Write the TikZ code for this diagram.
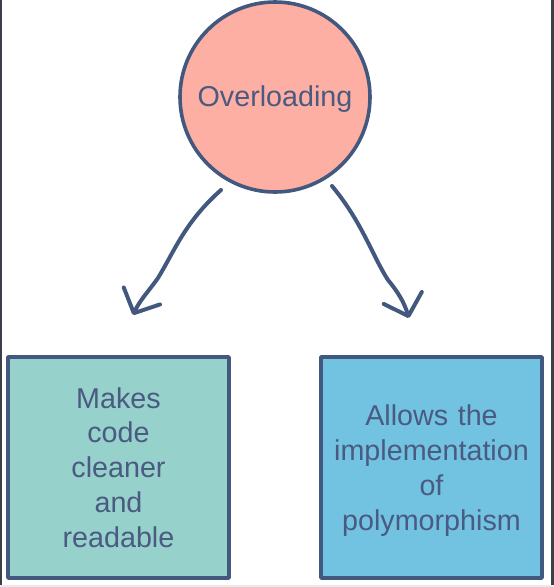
\documentclass[tikz,border=0pt]{standalone}
\usepackage{fontspec}
\setmainfont{Liberation Sans}
\usetikzlibrary{arrows.meta}
\definecolor{ink}{HTML}{43587E}
\definecolor{txt}{HTML}{4A5A80}
\definecolor{salmon}{HTML}{FEAFA3}
\definecolor{teal}{HTML}{97D1CC}
\definecolor{skyb}{HTML}{72C2E1}
\definecolor{edge}{HTML}{3C3F48}
\tikzset{
  outl/.style={draw=ink, line width=3.6pt},
  lbl/.style={text=txt, font=\fontsize{28.7}{34.8}\selectfont, align=center},
  boxnode/.style={outl, rectangle, minimum width=221pt, minimum height=221pt, inner sep=0pt, line join=round},
  conn/.style={draw=ink, line width=4pt, line cap=round, line join=round,
    -{Straight Barb[length=19pt,width=40pt,line width=4pt,round]}},
}
\begin{document}
\begin{tikzpicture}[x=1pt,y=-1pt]
\useasboundingbox (0,0) rectangle (554,587);
\fill[white] (0,0) rectangle (554,587);
\fill[edge] (0,0) rectangle (1.6,587);
\fill[edge] (550.5,0) rectangle (554,587);
\fill[black!8] (0,584.5) rectangle (554,587);
\node[outl, circle, fill=salmon, minimum size=190pt, inner sep=0pt] (over) at (275,97) {};
\node[lbl] (overt) at (275,99) {Overloading};
\node[boxnode, fill=teal] (left) at (118.5,467.5) {};
\node[lbl, text width=200pt] (leftt) at (118.5,467.5) {Makes\\code\\cleaner\\and\\readable};
\node[boxnode, fill=skyb] (right) at (431.5,467.5) {};
\node[lbl, text width=215pt] (rightt) at (431.5,470.5) {Allows the\\implementation\\of\\polymorphism};
\coordinate (ls) at (221,190);
\coordinate (le) at (133,315);
\coordinate (rs) at (332,186);
\coordinate (re) at (409,318);
\draw[conn] (ls) .. controls (185,222) and (175,250) .. (158,278) .. controls (148,292) and (140,300) .. (le);
\draw[conn] (rs) .. controls (362,222) and (372,255) .. (388,280) .. controls (398,292) and (404,302) .. (re);
\end{tikzpicture}
\end{document}
